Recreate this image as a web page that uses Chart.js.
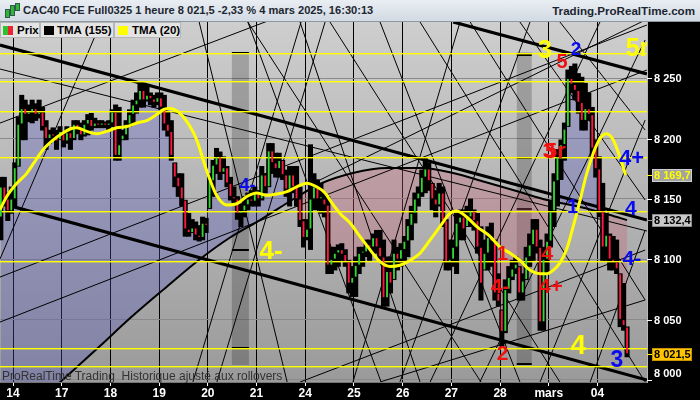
<!DOCTYPE html>
<html>
<head>
<meta charset="utf-8">
<script src="https://cdn.jsdelivr.net/npm/chart.js@4.4.1/dist/chart.umd.min.js"></script>
<style>
body { margin: 0; background: #000; }
#wrap { position: relative; width: 700px; height: 400px; overflow: hidden; font-family: "Liberation Sans", Arial, sans-serif; }
#c { position: absolute; left: 0; top: 0; }
#head { position: absolute; left: 0; top: 0; width: 700px; height: 21px; background: linear-gradient(#e9eef3, #d2dae2); border-bottom: 1px solid #8c98a4; font-weight: bold; font-size: 11px; color: #1c2630; line-height: 21px; white-space: nowrap; }
#ttl { position: absolute; left: 23px; top: 0; font-size: 11.1px; }
#site { position: absolute; right: 5px; top: 0; font-size: 11.6px; }
.ico { position: absolute; width: 3px; background: #2fb82f; border: 1px solid #355; }
.lg { position: absolute; top: 22px; height: 16px; box-sizing: border-box; background: #e4e4e4; border: 1px solid #b5b5b5; font-weight: bold; font-size: 11.5px; line-height: 14px; color: #000; white-space: nowrap; }
.sw { position: absolute; top: 3px; width: 10px; height: 9px; }
.lg span.tx { position: absolute; top: 0; }
#foot { position: absolute; left: 2px; top: 369px; font-size: 12px; color: #333; white-space: pre; }
</style>
</head>
<body>
<div id="wrap">
  <canvas id="c" width="700" height="400"></canvas>
  <div id="head">
    <div class="ico" style="left:5px;top:9px;height:7px"></div>
    <div class="ico" style="left:10px;top:5px;height:9px"></div>
    <div class="ico" style="left:15px;top:3px;height:6px"></div>
    <span id="ttl">CAC40 FCE Full0325 1 heure 8 021,5 -2,33 % 4 mars 2025, 16:30:13</span>
    <span id="site">Trading.ProRealTime.com</span>
  </div>
  <div class="lg" style="left:0;width:40px">
    <div class="sw" style="left:2px;width:5px;background:#2fc02f"></div>
    <div class="sw" style="left:7px;width:5px;background:#f02030"></div>
    <span class="tx" style="left:16px">Prix</span>
  </div>
  <div class="lg" style="left:40px;width:74px">
    <div class="sw" style="left:3px;background:#000"></div>
    <span class="tx" style="left:16px">TMA (155)</span>
  </div>
  <div class="lg" style="left:114px;width:67px">
    <div class="sw" style="left:3px;background:#ffff00"></div>
    <span class="tx" style="left:17px">TMA (20)</span>
  </div>
  <div id="foot">ProRealTime Trading  Historique ajusté aux rollovers</div>
</div>
<script>
// hourly bars, Feb 13 evening -> Mar 4 16:00 (bar index 0..180)
const dayLabels = ['14', '17', '18', '19', '20', '21', '24', '25', '26', '27', '28', 'mars', '04'];
const dayStarts = [3.5, 17.5, 31.5, 45.5, 59.5, 73.5, 87.5, 101.5, 115.5, 129.5, 143.5, 157.5, 171.5];
const yTicks = [8000, 8050, 8100, 8150, 8200, 8250];

const firstOpen = 8135;
const highs = [
  8168, 8168, 8155, 8160, 8180, 8218, 8236, 8232, 8228, 8232, 8229, 8232, 8226, 8215,
  8207, 8209, 8207, 8210, 8204, 8210, 8207, 8215, 8215, 8213, 8215, 8220, 8221, 8217,
  8215, 8215, 8214, 8215, 8224, 8228, 8226, 8207, 8215, 8224, 8232, 8238, 8246, 8246,
  8244, 8238, 8236, 8238, 8238, 8236, 8222, 8215, 8180, 8171, 8171, 8149, 8138, 8133,
  8131, 8128, 8135, 8134, 8171, 8182, 8192, 8189, 8185, 8177, 8168, 8160, 8152, 8146,
  8152, 8155, 8157, 8160, 8157, 8177, 8171, 8196, 8196, 8188, 8188, 8182, 8174, 8177,
  8177, 8177, 8160, 8133, 8133, 8195, 8171, 8166, 8163, 8155, 8152, 8110, 8110, 8112,
  8113, 8108, 8099, 8094, 8102, 8110, 8110, 8116, 8116, 8121, 8124, 8124, 8116, 8102,
  8102, 8116, 8110, 8113, 8119, 8133, 8144, 8155, 8160, 8174, 8184, 8180, 8163, 8157,
  8163, 8160, 8133, 8116, 8116, 8138, 8141, 8141, 8144, 8150, 8141, 8138, 8127, 8116,
  8127, 8130, 8116, 8088, 8058, 8083, 8094, 8099, 8102, 8094, 8088, 8110, 8121, 8133,
  8133, 8116, 8110, 8121, 8149, 8171, 8191, 8199, 8213, 8257, 8260, 8262, 8254, 8251,
  8246, 8238, 8226, 8199, 8185, 8163, 8138, 8121, 8119, 8116, 8088, 8080, 8044
];
const lows = [
  8116, 8144, 8132, 8138, 8144, 8177, 8199, 8199, 8214, 8213, 8215, 8217, 8207, 8191,
  8196, 8199, 8191, 8199, 8193, 8196, 8191, 8199, 8204, 8199, 8202, 8203, 8207, 8209,
  8209, 8209, 8209, 8207, 8210, 8182, 8182, 8199, 8199, 8210, 8213, 8221, 8226, 8226,
  8231, 8228, 8226, 8228, 8224, 8207, 8202, 8182, 8160, 8152, 8144, 8119, 8119, 8122,
  8116, 8115, 8116, 8122, 8142, 8152, 8171, 8166, 8171, 8160, 8149, 8146, 8133, 8127,
  8135, 8141, 8144, 8144, 8144, 8149, 8155, 8160, 8171, 8168, 8168, 8166, 8152, 8144,
  8155, 8144, 8127, 8110, 8116, 8108, 8141, 8141, 8138, 8135, 8088, 8088, 8091, 8094,
  8099, 8094, 8072, 8069, 8069, 8088, 8094, 8102, 8099, 8105, 8105, 8099, 8061, 8061,
  8072, 8083, 8091, 8094, 8099, 8102, 8116, 8130, 8144, 8152, 8155, 8157, 8141, 8135,
  8144, 8127, 8091, 8091, 8094, 8088, 8116, 8116, 8127, 8127, 8124, 8105, 8066, 8091,
  8091, 8094, 8066, 8061, 8028, 8039, 8072, 8083, 8088, 8066, 8066, 8083, 8094, 8099,
  8105, 8041, 8041, 8088, 8110, 8127, 8144, 8166, 8182, 8210, 8238, 8232, 8221, 8207,
  8207, 8215, 8185, 8168, 8135, 8099, 8099, 8091, 8091, 8088, 8044, 8041, 8019
];
const closes = [
  8160, 8150, 8140, 8150, 8176, 8212, 8225, 8220, 8222, 8225, 8220, 8222, 8210, 8200,
  8204, 8202, 8198, 8206, 8198, 8205, 8200, 8212, 8208, 8203, 8212, 8216, 8210, 8213,
  8211, 8213, 8211, 8213, 8222, 8186, 8195, 8203, 8212, 8220, 8228, 8232, 8240, 8232,
  8236, 8233, 8230, 8234, 8226, 8212, 8206, 8186, 8168, 8160, 8150, 8125, 8122, 8126,
  8120, 8118, 8130, 8128, 8165, 8178, 8185, 8172, 8176, 8163, 8152, 8150, 8138, 8140,
  8145, 8150, 8148, 8155, 8150, 8170, 8160, 8190, 8180, 8175, 8182, 8170, 8158, 8170,
  8160, 8150, 8132, 8118, 8125, 8150, 8160, 8150, 8150, 8145, 8095, 8100, 8105, 8108,
  8104, 8098, 8080, 8085, 8095, 8105, 8106, 8112, 8110, 8118, 8110, 8102, 8068, 8090,
  8080, 8105, 8100, 8108, 8115, 8128, 8138, 8150, 8155, 8168, 8175, 8165, 8150, 8145,
  8155, 8132, 8098, 8100, 8110, 8130, 8135, 8125, 8135, 8140, 8132, 8110, 8080, 8105,
  8118, 8115, 8072, 8065, 8040, 8075, 8085, 8092, 8096, 8072, 8082, 8102, 8112, 8125,
  8110, 8048, 8100, 8115, 8140, 8165, 8185, 8195, 8208, 8250, 8245, 8240, 8230, 8215,
  8225, 8220, 8192, 8175, 8140, 8110, 8120, 8100, 8098, 8092, 8050, 8045, 8021.5
];

// TMA (20) (bar index, price)
const tma20Bar = [-0.24, 1.7, 4.6, 7.4, 9.3, 12.2, 15.1, 17.5, 19.9, 21.8, 24.7, 27.6, 30.4, 33.3, 36.2, 39.1, 41.9, 44.8, 46.7, 48.6,
  51.5, 54.4, 56.3, 58.2, 60.1, 62.0, 64.9, 67.8, 70.7, 73.5, 76.4, 79.3, 82.2, 85.0, 87.9, 90.8, 93.2, 94.6, 97.5, 100.4,
  103.2, 106.1, 109.0, 111.9, 114.7, 117.6, 120.5, 123.4, 126.2, 129.1, 131.0, 133.9, 136.8, 140.6, 143.5, 146.4, 149.2, 152.1, 155.0, 156.9,
  158.8, 160.7, 162.6, 164.5, 166.5, 168.4, 170.3, 172.2, 174.1, 176.0, 177.9, 179.6];
const tma20 = [8141, 8152, 8163, 8171, 8179, 8191, 8199, 8204, 8208, 8209, 8206, 8204, 8206, 8209, 8210, 8213, 8215, 8220, 8224, 8225,
  8221, 8210, 8199, 8182, 8166, 8153, 8145, 8146, 8152, 8155, 8153, 8154, 8156, 8160, 8163, 8160, 8155, 8149, 8138, 8130,
  8119, 8108, 8098, 8094, 8095, 8099, 8105, 8116, 8127, 8138, 8140, 8135, 8127, 8119, 8110, 8105, 8099, 8091, 8088, 8088,
  8091, 8097, 8108, 8127, 8149, 8171, 8188, 8200, 8204, 8199, 8185, 8169.7];

// TMA (155), the black curve
const tma155Bar = [0, 17.0, 28.5, 37.1, 47.2, 57.2, 65.9, 74.5, 85.1, 91.7, 101.2, 111.0, 120.5, 130.0, 139.2, 149.2, 157.0, 166.5, 175.1, 180];
const tma155 = [7954, 7998, 8028, 8051, 8076, 8100, 8118, 8132.5, 8151.6, 8162.4, 8171.5, 8175.6, 8175.6, 8171.5, 8164.0, 8155.7, 8149.1, 8143.3, 8136.7, 8132.4];

const levels = [8270.7, 8247.8, 8223.3, 8184.5, 8140.4, 8098.7, 8026.1, 8011.4];

// drawn trend lines: [bar, price, bar, price]
const thickLines = [
  [-0.24, 8277.6, 185.7, 8132.5],
  [-0.24, 8146.6, 185.7, 7999.8],
  [130.0, 8296.7, 185.7, 8253.6]
];
const thinLines = [
  [-0.24, 8257.7, 185.7, 8123.4], [-0.24, 8212.9, 77.4, 8298.3], [28.8, 8296.7, -0.24, 8100.2],
  [-0.24, 8085.2, 185.7, 8294.2], [-0.24, 8047.9, 185.7, 8256.9], [57.0, 8296.7, 82.3, 7998.2],
  [71.0, 8296.7, 109.3, 7998.2], [71.0, 8296.7, 138.0, 7998.2], [55.2, 7998.2, 86.3, 8296.7],
  [62.1, 7998.2, 93.2, 8296.7], [86.0, 8296.7, 120.5, 7998.2], [94.6, 8296.7, 160.7, 7998.2],
  [109.0, 8296.7, 149.2, 7998.2], [120.5, 8296.7, 185.2, 7998.2], [134.9, 8296.7, 185.2, 8066.2],
  [149.2, 8296.7, 185.2, 8149.1], [160.7, 8296.7, 185.2, 8207.1], [101.2, 7998.2, 132.0, 8296.7],
  [114.7, 7998.2, 152.1, 8296.7], [123.4, 7998.2, 172.2, 8296.7], [137.7, 7998.2, 185.2, 8281.8],
  [155.0, 7998.2, 185.2, 8215.4], [169.4, 7998.2, 185.2, 8124.2], [86.0, 7998.2, 185.2, 8107.6],
  [109.0, 7998.2, 185.2, 8066.2], [91.7, 8165.7, 185.2, 8298.3]
];

// darker vertical bands with their small marks
const bands = [
  { from: 66.4, to: 71.3, top: 8271.6, bottom: 8012.3, marks: [8270.7, 8107.6, 8026.1] },
  { from: 148.3, to: 152.6, top: 8271.6, bottom: 8012.3, marks: [8269.3, 8183.7, 8141.6, 8013.1] }
];

const notes = [
  { t: '3', b: 156.4, p: 8272.6, c: '#ffff00', s: 25 },
  { t: '2', b: 165.3, p: 8273.5, c: '#0a0af0', s: 19 },
  { t: '5', b: 161.3, p: 8263.1, c: '#f01010', s: 20 },
  { t: '5r', b: 183.0, p: 8274.3, c: '#ffff00', s: 25 },
  { t: '3', b: 155.8, p: 8189.3, c: '#f01010', s: 22, left: true },
  { t: '5r', b: 156.4, p: 8189.3, c: '#f01010', s: 22, left: true },
  { t: '4+', b: 181.3, p: 8183.5, c: '#0a0af0', s: 22 },
  { t: '4', b: 181.1, p: 8141.2, c: '#0a0af0', s: 21 },
  { t: '4-', b: 181.4, p: 8099.8, c: '#0a0af0', s: 21 },
  { t: '1', b: 164.3, p: 8142.9, c: '#0a0af0', s: 20 },
  { t: '1', b: 144.2, p: 8103.9, c: '#f01010', s: 20 },
  { t: '4', b: 157.1, p: 8103.9, c: '#f01010', s: 21 },
  { t: '4-', b: 143.5, p: 8076.5, c: '#f01010', s: 21 },
  { t: '4+', b: 158.1, p: 8076.5, c: '#f01010', s: 21 },
  { t: '2', b: 144.2, p: 8020.9, c: '#f01010', s: 21 },
  { t: '4', b: 166.0, p: 8028.0, c: '#ffff00', s: 28 },
  { t: '3', b: 177.1, p: 8015.6, c: '#0a0af0', s: 23 },
  { t: '4-', b: 70.9, p: 8160.3, c: '#0a0af0', s: 18 },
  { t: '4-', b: 77.7, p: 8106.0, c: '#ffff00', s: 26 }
];

const FONT = '"Liberation Sans", Arial, sans-serif';

function fmt(v, d) {
  const s = v.toFixed(d).split('.');
  return s[0].slice(0, 1) + ' ' + s[0].slice(1) + (s[1] ? ',' + s[1] : '');
}

const ranges = highs.map((h, i) => ({ x: i, y: [lows[i], h] }));
const bodies = closes.map((c, i) => {
  const o = i ? closes[i - 1] : firstOpen;
  const lo = Math.max(lows[i], Math.min(o, c));
  let hi = Math.min(highs[i], Math.max(o, c));
  if (hi - lo < 1) hi = lo + 1;
  return { x: i, y: [lo + 0.8, hi - 0.8 > lo + 0.8 ? hi - 0.8 : hi] };
});
const bodyColors = closes.map((c, i) => c >= (i ? closes[i - 1] : firstOpen) ? '#33d633' : '#ff1840');
const closePts = closes.map((c, i) => ({ x: i, y: c }));
const tma20Pts = tma20Bar.map((b, i) => ({ x: b, y: tma20[i] }));
const tma155Pts = tma155Bar.map((b, i) => ({ x: b, y: tma155[i] }));

const backdrop = {
  id: 'backdrop',
  beforeDraw(chart) {
    const { ctx, chartArea: a } = chart;
    ctx.save();
    ctx.fillStyle = '#000';
    ctx.fillRect(0, 0, chart.width, chart.height);
    const g = ctx.createLinearGradient(0, a.top, 0, a.bottom);
    g.addColorStop(0, '#cecece');
    g.addColorStop(1, '#9a9a9a');
    ctx.fillStyle = g;
    ctx.fillRect(a.left, a.top, a.width, a.height);
    ctx.restore();
  },
  beforeDatasetsDraw(chart) {
    const { ctx, scales: { x, y } } = chart;
    ctx.save();
    bands.forEach(b => {
      const x0 = x.getPixelForValue(b.from), x1 = x.getPixelForValue(b.to);
      const y0 = y.getPixelForValue(b.top), y1 = y.getPixelForValue(b.bottom);
      ctx.fillStyle = 'rgba(0,0,0,0.2)';
      ctx.fillRect(x0, y0, x1 - x0, y1 - y0);
      ctx.fillStyle = '#000';
      b.marks.forEach(m => ctx.fillRect(x0, Math.round(y.getPixelForValue(m)) - 1, x1 - x0, 2));
    });
    ctx.restore();
  },
  afterDatasetDraw(chart, args) {
    if (args.index !== 2) return;
    const { ctx, chartArea: a, scales: { x, y } } = chart;
    ctx.save();
    ctx.beginPath();
    ctx.rect(a.left, a.top, a.width, a.height);
    ctx.clip();
    ctx.strokeStyle = '#000';
    const seg = (l, w) => {
      ctx.lineWidth = w;
      ctx.beginPath();
      ctx.moveTo(x.getPixelForValue(l[0]), y.getPixelForValue(l[1]));
      ctx.lineTo(x.getPixelForValue(l[2]), y.getPixelForValue(l[3]));
      ctx.stroke();
    };
    thinLines.forEach(l => seg(l, 1));
    thickLines.forEach(l => seg(l, 3.2));
    // horizontal levels on top of the web
    ctx.fillStyle = '#ffff00';
    levels.forEach(v => {
      ctx.fillRect(a.left, Math.round(y.getPixelForValue(v)), a.width, 1.4);
    });
    ctx.restore();
  },
  afterDatasetsDraw(chart) {
    const { ctx, chartArea: a, scales: { x, y } } = chart;
    ctx.save();
    ctx.beginPath();
    ctx.rect(a.left, a.top, a.width, a.height);
    ctx.clip();
    ctx.textBaseline = 'middle';
    notes.forEach(n => {
      ctx.font = 'bold ' + n.s + 'px ' + FONT;
      ctx.fillStyle = n.c;
      ctx.textAlign = n.left ? 'left' : 'center';
      ctx.fillText(n.t, x.getPixelForValue(n.b), y.getPixelForValue(n.p));
    });
    ctx.restore();
  },
  afterDraw(chart) {
    const { ctx, chartArea: a, scales: { y } } = chart;
    ctx.save();
    ctx.font = 'bold 11px ' + FONT;
    ctx.textBaseline = 'middle';
    ctx.textAlign = 'left';
    yTicks.forEach(v => {
      const py = Math.round(y.getPixelForValue(v)) + 0.5;
      ctx.strokeStyle = '#fff';
      ctx.lineWidth = 1;
      ctx.beginPath(); ctx.moveTo(a.right, py); ctx.lineTo(a.right + 5, py); ctx.stroke();
      ctx.fillStyle = '#fff';
      ctx.fillText(fmt(v, 0), a.right + 7, Math.min(py, 374));
    });
    const boxes = [
      { v: tma20[tma20.length - 1], bg: '#a2a2a2', bd: '#cfcfcf', fg: '#ffff00', tick: '#ffff00' },
      { v: tma155[tma155.length - 1], bg: '#c8c8c8', bd: '#8a8a8a', fg: '#000', tick: '#9a9a9a' },
      { v: closes[closes.length - 1], bg: '#ffc400', bd: '#c89200', fg: '#000', tick: '#ffff00' }
    ];
    boxes.forEach(b => {
      const py = Math.round(y.getPixelForValue(b.v));
      ctx.strokeStyle = b.tick;
      ctx.beginPath(); ctx.moveTo(a.right, py + 0.5); ctx.lineTo(a.right + 5, py + 0.5); ctx.stroke();
      ctx.fillStyle = b.bg;
      ctx.fillRect(a.right + 5, py - 6, 40, 13);
      ctx.strokeStyle = b.bd;
      ctx.strokeRect(a.right + 5.5, py - 5.5, 39, 12);
      ctx.fillStyle = b.fg;
      ctx.fillText(fmt(b.v, 1), a.right + 7, py + 1);
    });
    ctx.restore();
  }
};

new Chart(document.getElementById('c'), {
  type: 'bar',
  data: {
    datasets: [
      { type: 'line', label: 'TMA (20)', data: tma20Pts, borderColor: '#ffff00', borderWidth: 3, pointRadius: 0,
        cubicInterpolationMode: 'monotone', order: 0 },
      { type: 'bar', label: 'corps', data: bodies, backgroundColor: bodyColors, barThickness: 1.2, grouped: false, order: 1 },
      { type: 'bar', label: 'Prix', data: ranges, backgroundColor: '#000', barThickness: 4.4, grouped: false, order: 2 },
      { type: 'line', label: 'TMA (155)', data: tma155Pts, borderColor: '#000', borderWidth: 2, pointRadius: 0,
        cubicInterpolationMode: 'monotone', order: 3 },
      { type: 'line', label: 'clôture', data: closePts, borderWidth: 0, borderColor: 'rgba(0,0,0,0)', pointRadius: 0,
        fill: { target: 3, above: 'rgba(80,80,190,0.32)', below: 'rgba(200,100,118,0.32)' }, order: 4 }
    ]
  },
  options: {
    responsive: false,
    animation: false,
    layout: { padding: { top: 22, left: 0, right: 0, bottom: 0 } },
    plugins: { legend: { display: false }, tooltip: { enabled: false } },
    scales: {
      x: {
        type: 'linear', offset: false, min: -0.24, max: 185.73,
        afterFit: s => { s.height = 18; },
        afterBuildTicks: s => { s.ticks = dayStarts.map(v => ({ value: v })); },
        grid: { offset: false, color: '#000', lineWidth: 1, tickColor: '#fff', tickLength: 4 },
        border: { color: '#777' },
        ticks: { color: '#fff', font: { family: FONT, size: 12, weight: 'bold' }, padding: 0,
          maxRotation: 0, autoSkip: false, callback: (v, i) => dayLabels[i] }
      },
      y: {
        position: 'right', min: 7998.2, max: 8296.7,
        afterFit: s => { s.width = 53; },
        afterBuildTicks: s => { s.ticks = yTicks.map(v => ({ value: v })); },
        grid: { color: '#8a8a8a', drawTicks: false },
        border: { color: '#b8b8b8' },
        ticks: { display: false }
      }
    }
  },
  plugins: [backdrop]
});
</script>
</body>
</html>
